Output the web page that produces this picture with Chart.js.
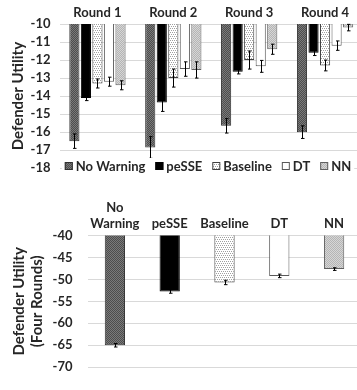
<!DOCTYPE html>
<html>
<head>
<meta charset="utf-8">
<script src="https://cdn.jsdelivr.net/npm/chart.js@4/dist/chart.umd.min.js"></script>
<style>
  html, body { margin: 0; padding: 0; background: #fff; overflow: hidden; }
  #wrap { position: relative; width: 357px; height: 390px; overflow: hidden; }
  .box { position: absolute; left: 0; width: 366px; }
</style>
</head>
<body>
<div id="wrap">
  <div class="box" style="top:0;height:185px"><canvas id="myChart1"></canvas></div>
  <div class="box" style="top:185px;height:205px"><canvas id="myChart2"></canvas></div>
</div>
<script>
// data
var rounds = ['Round 1', 'Round 2', 'Round 3', 'Round 4'];
var seriesNames = ['No Warning', 'peSSE', 'Baseline', 'DT', 'NN'];

var noWarning = [-16.5, -16.85, -15.65, -16.0];
var peSSE     = [-14.1, -14.35, -12.65, -11.6];
var baseline  = [-13.3, -13.0, -12.0, -12.3];
var dt        = [-13.2, -12.5, -12.35, -11.2];
var nn        = [-13.4, -12.55, -11.4, -10.2];

var noWarningErr = [0.4, 0.6, 0.4, 0.35];
var peSSEErr     = [0.15, 0.5, 0.12, 0.15];
var baselineErr  = [0.25, 0.5, 0.5, 0.3];
var dtErr        = [0.25, 0.4, 0.33, 0.26];
var nnErr        = [0.25, 0.45, 0.28, 0.18];

var totalLabels = [['No', 'Warning'], 'peSSE', 'Baseline', 'DT', 'NN'];
var totalValues = [-65.0, -52.75, -50.7, -49.2, -47.65];
var totalErr    = [0.4, 0.4, 0.5, 0.4, 0.3];

var topTicks = [-10, -11, -12, -13, -14, -15, -16, -17, -18];
var bottomTicks = [-40, -45, -50, -55, -60, -65, -70];

var FONT = 'Lato, "Open Sans", sans-serif';
Chart.defaults.font.family = FONT;
Chart.defaults.color = '#262626';

function makePattern(draw) {
    var c = document.createElement('canvas');
    c.width = 4; c.height = 4;
    var g = c.getContext('2d');
    draw(g);
    return document.createElement('canvas').getContext('2d').createPattern(c, 'repeat');
}
function checker(a, b) {
    return makePattern(function(g) {
        g.fillStyle = a; g.fillRect(0, 0, 4, 4);
        g.fillStyle = b;
        g.fillRect(0, 0, 1, 1); g.fillRect(2, 0, 1, 1);
        g.fillRect(1, 1, 1, 1); g.fillRect(3, 1, 1, 1);
        g.fillRect(0, 2, 1, 1); g.fillRect(2, 2, 1, 1);
        g.fillRect(1, 3, 1, 1); g.fillRect(3, 3, 1, 1);
    });
}
var dotted = makePattern(function(g) {
    g.fillStyle = '#ffffff'; g.fillRect(0, 0, 4, 4);
    g.fillStyle = '#a0a0a0';
    g.fillRect(0, 0, 1, 1); g.fillRect(2, 0, 1, 1);
    g.fillRect(1, 2, 1, 1); g.fillRect(3, 2, 1, 1);
});

var fills = [checker('#4d4d4d', '#7a7a7a'), '#000000', dotted, '#ffffff', checker('#b5b5b5', '#d6d6d6')];
var borders = ['#303030', '#000000', '#404040', '#595959', '#606060'];

// error bars drawn through the scales
var errorBars = {
    id: 'errorBars',
    afterDatasetsDraw: function(chart) {
        var c = chart.ctx;
        var y = chart.scales.y;
        c.save();
        c.strokeStyle = '#000';
        c.lineWidth = 1;
        chart.data.datasets.forEach(function(ds, i) {
            var meta = chart.getDatasetMeta(i);
            meta.data.forEach(function(bar, j) {
                var v = ds.data[j], e = ds.err[j];
                var x = Math.round(bar.x) + 0.5;
                var y1 = y.getPixelForValue(v + e), y2 = y.getPixelForValue(v - e);
                c.beginPath();
                c.moveTo(x, y1); c.lineTo(x, y2);
                c.moveTo(x - 1.5, y1); c.lineTo(x + 2, y1);
                c.moveTo(x - 1.5, y2); c.lineTo(x + 2, y2);
                c.stroke();
            });
        });
        c.restore();
    }
};

// legend sitting over the bottom of the first plot
var overLegend = {
    id: 'overLegend',
    afterDraw: function(chart) {
        var c = chart.ctx;
        var cy = 166;
        c.save();
        c.font = 'bold 13px ' + FONT;
        c.textBaseline = 'middle';
        var widths = seriesNames.map(function(n) { return 11 + c.measureText(n).width; });
        var gap = 10;
        var total = widths.reduce(function(a, b) { return a + b; }, 0) + gap * (widths.length - 1);
        var x = 208 - total / 2;
        c.fillStyle = '#fff';
        c.fillRect(x - 3, cy - 8, total + 6, 16);
        seriesNames.forEach(function(n, i) {
            c.fillStyle = fills[i];
            c.fillRect(x, cy - 4, 8, 8);
            c.strokeStyle = borders[i];
            c.lineWidth = 1;
            c.strokeRect(x + 0.5, cy - 3.5, 7, 7);
            c.fillStyle = '#262626';
            c.fillText(n, x + 11, cy + 1);
            x += widths[i] + gap;
        });
        c.restore();
    }
};

var topSeries = [noWarning, peSSE, baseline, dt, nn];
var topErrs = [noWarningErr, peSSEErr, baselineErr, dtErr, nnErr];

var ctx = document.getElementById('myChart1').getContext('2d');
var myChart1 = new Chart(ctx, {
    type: 'bar',
    data: {
        labels: rounds,
        datasets: seriesNames.map(function(n, i) {
            return {
                label: n,
                data: topSeries[i],
                err: topErrs[i],
                backgroundColor: fills[i],
                borderColor: borders[i],
                borderWidth: 1,
                borderSkipped: false,
                categoryPercentage: 0.76,
                barPercentage: 0.88
            };
        })
    },
    options: {
        responsive: true,
        maintainAspectRatio: false,
        animation: false,
        layout: { padding: { left: 0, right: 3, top: 0, bottom: 16 } },
        plugins: { legend: { display: false }, tooltip: { enabled: false } },
        scales: {
            x: {
                position: 'top',
                grid: { display: false, drawTicks: false },
                border: { display: false },
                ticks: { padding: 3, font: { size: 13, weight: 'bold' } },
                afterFit: function(s) { s.height = 24; }
            },
            y: {
                min: -18, max: -10,
                afterBuildTicks: function(s) { s.ticks = topTicks.map(function(v) { return { value: v }; }); },
                grid: { color: '#d9d9d9', drawTicks: false },
                border: { display: false },
                ticks: { padding: 9, autoSkip: false, font: { size: 13, weight: 'bold' } },
                title: { display: true, text: 'Defender Utility', font: { size: 15, weight: 'bold' }, padding: { top: 9, bottom: 0 } },
                afterFit: function(s) { s.width = 59.5; }
            }
        }
    },
    plugins: [errorBars, overLegend]
});

var ctx2 = document.getElementById('myChart2').getContext('2d');
var myChart2 = new Chart(ctx2, {
    type: 'bar',
    data: {
        labels: totalLabels,
        datasets: [{
            label: 'Four Rounds',
            data: totalValues,
            err: totalErr,
            backgroundColor: fills,
            borderColor: borders,
            borderWidth: 1,
            borderSkipped: false,
            categoryPercentage: 1,
            barPercentage: 0.37
        }]
    },
    options: {
        responsive: true,
        maintainAspectRatio: false,
        animation: false,
        layout: { padding: { left: 0, right: 4.5, top: 0, bottom: 9 } },
        plugins: { legend: { display: false }, tooltip: { enabled: false } },
        scales: {
            x: {
                position: 'top',
                grid: { display: false, drawTicks: false },
                border: { display: false },
                ticks: { padding: 4, autoSkip: false, font: { size: 13, weight: 'bold' }, maxRotation: 0 },
                afterFit: function(s) { s.height = 50.5; }
            },
            y: {
                min: -70, max: -40,
                afterBuildTicks: function(s) { s.ticks = bottomTicks.map(function(v) { return { value: v }; }); },
                grid: { color: '#d9d9d9', drawTicks: false },
                border: { display: false },
                ticks: { padding: 15, autoSkip: false, font: { size: 13, weight: 'bold' } },
                title: { display: true, text: ['Defender Utility', '(Four Rounds)'], font: { size: 15, weight: 'bold' }, padding: { top: 10, bottom: 0 } },
                afterFit: function(s) { s.width = 87.5; }
            }
        }
    },
    plugins: [errorBars]
});
</script>
</body>
</html>
